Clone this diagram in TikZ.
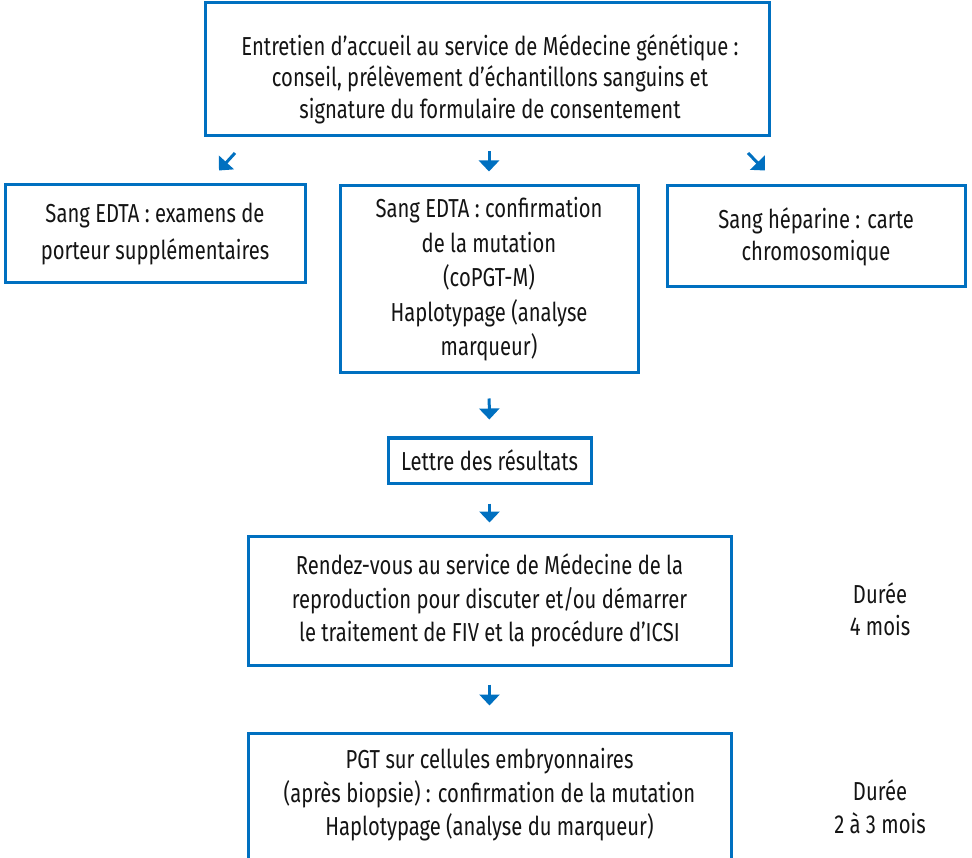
\documentclass[tikz,border=0pt]{standalone}
\usepackage{fontspec}
\setmainfont{Fira Sans}[FakeStretch=0.778]
\usetikzlibrary{arrows.meta}
\definecolor{cblue}{RGB}{0,112,192}
\definecolor{ctext}{RGB}{20,20,20}
\tikzset{
  box/.style={draw=cblue, line width=3pt, fill=white, inner sep=0pt, align=center, text=ctext},
  txt/.style={inner sep=0pt, align=center, text=ctext},
  arr/.style={draw=cblue, line width=3pt, -{Triangle[width=20pt,length=11pt]}}
}
\begin{document}
\begin{tikzpicture}[x=1pt,y=-1pt, font=\fontsize{26}{31.5}\selectfont]
\useasboundingbox (0,0) rectangle (972,858);
\clip (0,0) rectangle (972,858);
% boxes
\node[box, minimum width=564pt, minimum height=133pt] (top) at (487,69.5) {};
\node[txt, font=\fontsize{26}{31.5}\selectfont] (toptext) at (490,79)
  {Entretien d’accueil au service de Médecine génétique :\\conseil, prélèvement d’échantillons sanguins et\\signature du formulaire de consentement};
\node[box, minimum width=300pt, minimum height=98pt, font=\fontsize{26}{37}\selectfont] (left) at (155,234)
  {Sang EDTA : examens de\\porteur supplémentaires};
\node[box, minimum width=298pt, minimum height=187pt, font=\fontsize{26}{34.5}\selectfont] (mid) at (489,279.5)
  {Sang EDTA : confirmation\\de la mutation\\(coPGT-M)\\Haplotypage (analyse\\marqueur)};
\node[box, minimum width=298pt, minimum height=101pt, font=\fontsize{26}{32}\selectfont] (right) at (816,236.5)
  {Sang héparine : carte\\chromosomique};
\node[box, minimum width=203pt, minimum height=45pt] (lettre) at (489.5,460.5)
  {Lettre des résultats};
\node[box, minimum width=483pt, minimum height=129pt, font=\fontsize{26}{33.5}\selectfont] (rdv) at (489.5,600.5)
  {Rendez-vous au service de Médecine de la\\reproduction pour discuter et/ou démarrer\\le traitement de FIV et la procédure d’ICSI};
\node[box, minimum width=483pt, minimum height=150pt] (pgt) at (489.5,808) {};
\node[txt, font=\fontsize{26}{33.5}\selectfont] (pgttext) at (489.5,795)
  {PGT sur cellules embryonnaires\\(après biopsie) : confirmation de la mutation\\Haplotypage (analyse du marqueur)};
\node[txt, font=\fontsize{26}{32}\selectfont] (dur1) at (880,609) {Durée\\4 mois};
\node[txt, font=\fontsize{26}{33}\selectfont] (dur2) at (880,806.5) {Durée\\2 à 3 mois};
% arrows
\coordinate (a1s) at (235,153); \coordinate (a1e) at (219,170.5);
\coordinate (a3s) at (748,153); \coordinate (a3e) at (765,170.5);
\draw[arr] (a1s) -- (a1e);
\draw[arr] (a3s) -- (a3e);
\draw[arr, shorten <=14pt, shorten >=13pt] (top.south -| mid.north) -- (mid.north);
\draw[arr, shorten <=24pt, shorten >=17pt] (mid.south) -- (lettre.north);
\draw[arr, shorten <=19pt, shorten >=12pt] (lettre.south) -- (rdv.north);
\draw[arr, shorten <=18pt, shorten >=26pt] (rdv.south) -- (pgt.north);
\end{tikzpicture}
\end{document}
